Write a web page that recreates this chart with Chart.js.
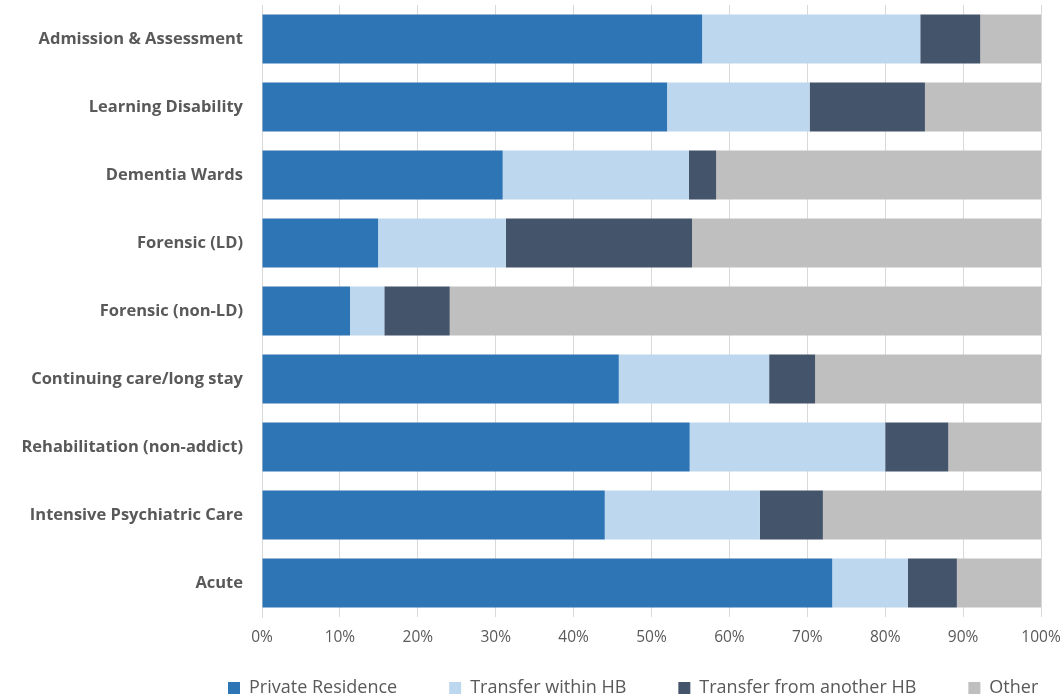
<!DOCTYPE html>
<html>
<head>
<meta charset="utf-8">
<script src="https://cdn.jsdelivr.net/npm/chart.js@4.4.1/dist/chart.umd.min.js"></script>
<style>
  html, body { margin: 0; padding: 0; background: #fff; }
  #wrap { width: 1061px; height: 695px; position: relative; }
</style>
</head>
<body>
<div id="wrap"><canvas id="c"></canvas></div>
<script>
// categories (top to bottom)
const categories = [
  'Admission & Assessment',
  'Learning Disability',
  'Dementia Wards',
  'Forensic (LD)',
  'Forensic (non-LD)',
  'Continuing care/long stay',
  'Rehabilitation (non-addict)',
  'Intensive Psychiatric Care',
  'Acute'
];

// percent shares per category
const privateResidence = [56.5, 52.0, 30.9, 14.9, 11.3, 45.8, 54.9, 44.0, 73.2];
const transferWithin   = [28.0, 18.3, 23.9, 16.4,  4.4, 19.3, 25.1, 19.9,  9.7];
const transferAnother  = [ 7.7, 14.8,  3.5, 23.9,  8.4,  5.9,  8.1,  8.1,  6.3];
const other            = [ 7.8, 14.9, 41.7, 44.8, 75.9, 29.0, 11.9, 28.0, 10.8];

const xTicks = ['0%', '10%', '20%', '30%', '40%', '50%', '60%', '70%', '80%', '90%', '100%'];

const labelColor = '#595959';
const LEGEND_GAP = 52;

// keep the legend thin in the layout, then move it where the reference has it
const legendPlace = {
  id: 'legendPlace',
  afterInit(chart) {
    const lg = chart.legend;
    const fit = lg.fit.bind(lg);
    lg.fit = function () { fit(); this.height = 10; };
  },
  afterLayout(chart) {
    const lg = chart.legend;
    const rowW = lg.lineWidths ? lg.lineWidths[0] : 863;
    lg.top = 686 - LEGEND_GAP - 7;
    lg.bottom = 695;
    lg.right = 1100;
    // first legend box starts at x = 228, as in the reference
    lg.left = 2 * 228 - LEGEND_GAP - lg.right + rowW;
  }
};

const chart = new Chart(document.getElementById('c'), {
  type: 'bar',
  data: {
    labels: categories,
    datasets: [
      { label: 'Private Residence', data: privateResidence, backgroundColor: '#2E75B6' },
      { label: 'Transfer within HB', data: transferWithin, backgroundColor: '#BDD7EE' },
      { label: 'Transfer from another HB', data: transferAnother, backgroundColor: '#44546A' },
      { label: 'Other', data: other, backgroundColor: '#BFBFBF' }
    ]
  },
  plugins: [legendPlace],
  options: {
    indexAxis: 'y',
    responsive: true,
    maintainAspectRatio: false,
    animation: false,
    datasets: { bar: { categoryPercentage: 0.72, barPercentage: 1.0, borderWidth: 0 } },
    layout: { padding: { top: 5, right: 20, left: 0, bottom: 0 } },
    plugins: {
      tooltip: { enabled: false },
      legend: {
        position: 'bottom',
        labels: {
          color: labelColor,
          font: { family: 'Open Sans', size: 18 },
          boxWidth: 12,
          boxHeight: 12,
          padding: LEGEND_GAP
        }
      }
    },
    scales: {
      x: {
        stacked: true,
        min: 0,
        max: 100,
        grid: { color: '#D9D9D9', lineWidth: 1, drawTicks: false },
        border: { display: false },
        ticks: {
          stepSize: 10,
          color: labelColor,
          padding: 11,
          font: { family: 'Open Sans', size: 15.5 },
          callback: (v, i) => xTicks[i]
        },
        afterFit: s => { s.height = 695 - 5 - 612 - 10; s.paddingLeft = 0; s.paddingRight = 0; }
      },
      y: {
        stacked: true,
        grid: { display: false },
        border: { display: true, color: '#D9D9D9' },
        ticks: {
          color: labelColor,
          padding: 11,
          font: { family: 'Open Sans', size: 16.5, weight: 'bold' }
        },
        afterFit: s => { s.width = 262; s.paddingTop = 0; s.paddingBottom = 0; }
      }
    }
  }
});
</script>
</body>
</html>
